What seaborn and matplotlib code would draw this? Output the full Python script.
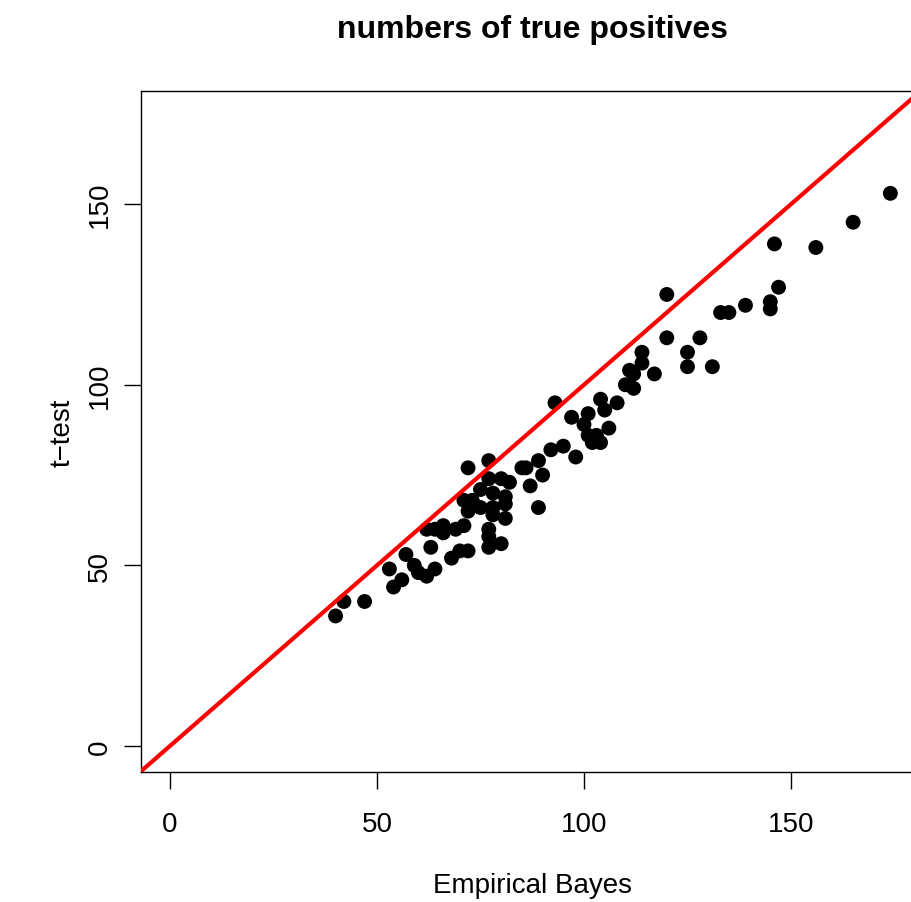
import numpy as np
import pandas as pd
import matplotlib
matplotlib.use("Agg")
import matplotlib.pyplot as plt
import seaborn as sns

# true positives found by each method
empirical_bayes = [40, 42, 47, 53, 54, 56, 57, 59, 60, 62, 64, 63, 62, 64, 66, 66, 68, 70, 72, 69, 71,
                   72, 77, 77, 80, 82, 85, 86, 89, 90, 87, 89, 75, 78, 81, 71, 73, 72, 75, 78, 78, 81, 81, 77, 77, 77, 80,
                   93, 97, 101, 100, 104, 105, 108, 110, 112, 106, 101, 102, 103, 104, 95, 92, 98,
                   111, 112, 114, 114, 117, 120, 120, 128, 125, 125, 131, 133, 135, 139, 145, 145, 147, 146, 156, 165, 174]
t_test = [36, 40, 40, 49, 44, 46, 53, 50, 48, 47, 49, 55, 60, 60, 61, 59, 52, 54, 54, 60, 61,
          77, 79, 74, 74, 73, 77, 77, 79, 75, 72, 66, 71, 70, 69, 68, 68, 65, 66, 66, 64, 67, 63, 60, 58, 55, 56,
          95, 91, 92, 89, 96, 93, 95, 100, 99, 88, 86, 84, 86, 84, 83, 82, 80,
          104, 103, 109, 106, 103, 125, 113, 113, 109, 105, 105, 120, 120, 122, 123, 121, 127, 139, 138, 145, 153]

df = pd.DataFrame({"eb": empirical_bayes, "tt": t_test})

sns.set_style("ticks")
plt.rcParams["font.family"] = ["Liberation Sans", "DejaVu Sans"]
plt.rcParams["text.color"] = "black"
plt.rcParams["axes.labelcolor"] = "black"
plt.rcParams["xtick.color"] = "black"
plt.rcParams["ytick.color"] = "black"

fig = plt.figure(figsize=(9.12, 9.03), dpi=100)
ax = fig.add_axes([0.1546, 0.144, 0.858, 0.754])

sns.scatterplot(data=df, x="eb", y="tt", color="black", s=115, edgecolor="none", ax=ax, zorder=3)

# diagonal y = x
ax.axline((0, 0), slope=1, color="#ff0000", lw=3, zorder=4)

ax.set_xlim(-7, 182)
ax.set_ylim(-7.2, 181.3)
ax.set_xticks([0, 50, 100, 150])
ax.set_yticks([0, 50, 100, 150])
ax.tick_params(axis="both", direction="out", length=12, width=1, labelsize=20)
ax.tick_params(axis="x", pad=16)
ax.tick_params(axis="y", pad=8)
for lab in ax.get_yticklabels():
    lab.set_rotation(90)
    lab.set_va("center")

for side in ["left", "bottom", "top", "right"]:
    ax.spines[side].set_visible(True)
    ax.spines[side].set_color("black")
    ax.spines[side].set_linewidth(1)

ax.set_xlabel("Empirical Bayes", fontsize=20, labelpad=25)
ax.set_ylabel("t\u2212test", fontsize=20, labelpad=8)
ax.set_title("numbers of true positives", fontsize=23, fontweight="bold", pad=39)

fig.savefig("out.png", dpi=100)
